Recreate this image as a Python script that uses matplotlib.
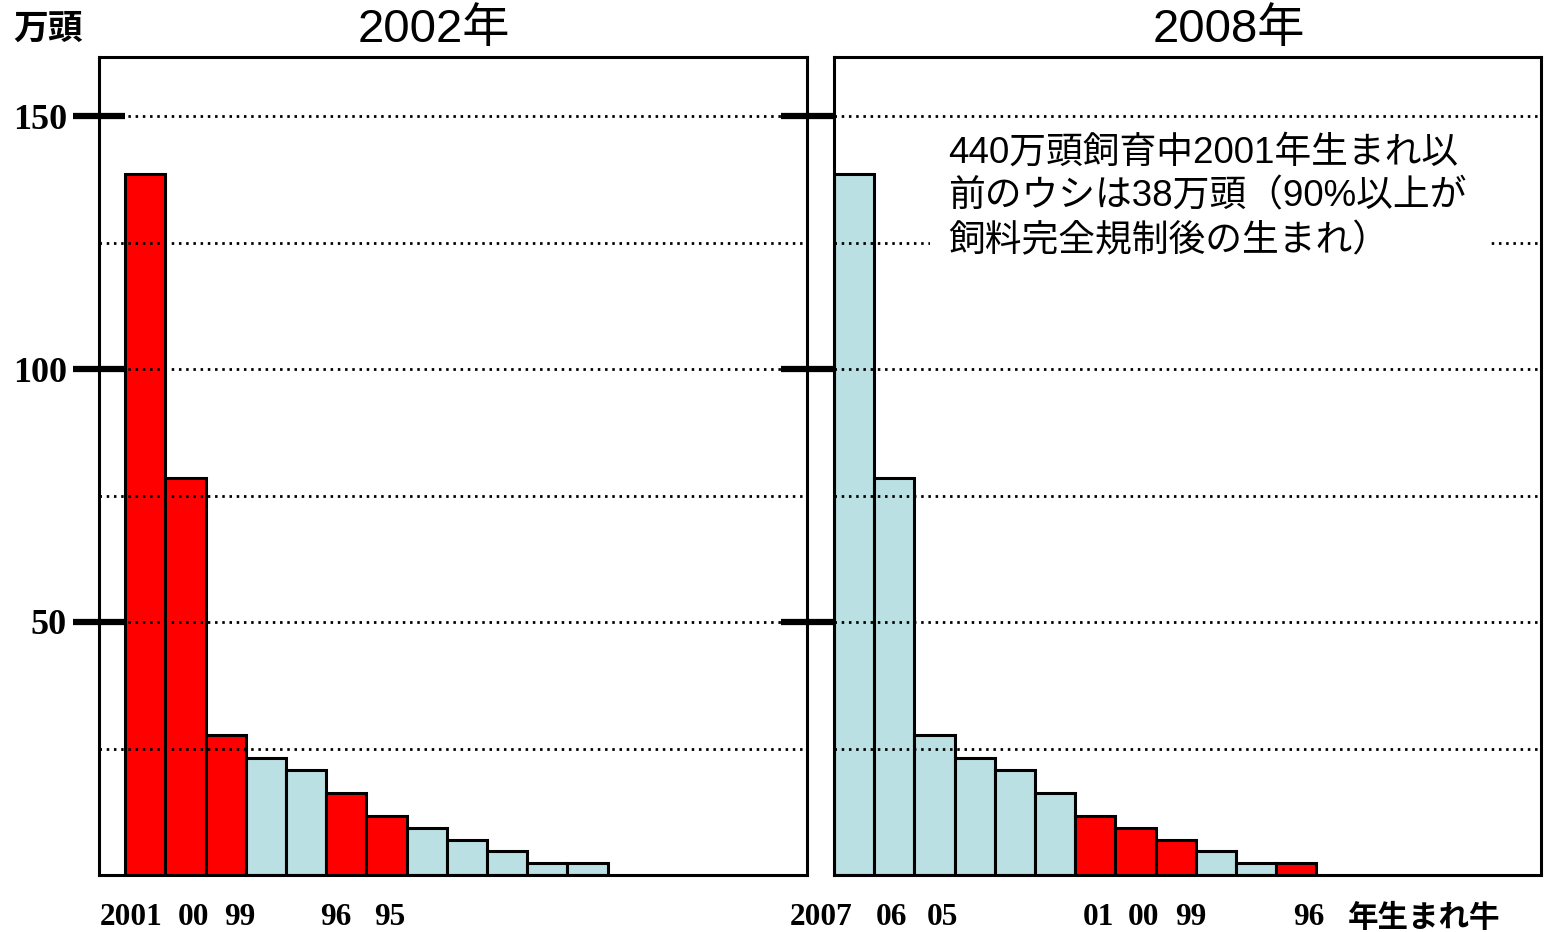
import numpy as np
import matplotlib.pyplot as plt
from matplotlib.patches import Rectangle
from matplotlib.transforms import blended_transform_factory

# ---- so lieu (万頭, theo nam sinh, tre nhat truoc) ----
born_2002 = list(range(2001, 1989, -1))          # 2001 .. 1990
heads_2002 = [138.5, 78.5, 27.7, 23.1, 20.8, 16.2, 11.7, 9.3, 6.9, 4.7, 2.4, 2.4]

born_2008 = list(range(2007, 1995, -1))          # 2007 .. 1996
heads_2008 = [138.5, 78.5, 27.7, 23.1, 20.8, 16.2, 11.7, 9.3, 6.9, 4.7, 2.4, 2.4]

red_cohorts = {2001, 2000, 1999, 1996, 1995}     # to mau do

labels_2002 = ['2001', '00', '99', '96', '95']
label_born_2002 = [2001, 2000, 1999, 1996, 1995]
labels_2008 = ['2007', '06', '05', '01', '00', '99', '96']
label_born_2008 = [2007, 2006, 2005, 2001, 2000, 1999, 1996]

yticks = [50, 100, 150]
grid_vals = [25, 50, 75, 100, 125, 150]

note = ('440万頭飼育中2001年生まれ以\n'
        '前のウシは38万頭（90%以上が\n'
        '飼料完全規制後の生まれ）')

# ---- kieu ----
RED = '#FF0000'
BLUE = '#BAE0E3'
W, H = 1544, 932
YTOP = 818 / 5.06
SANS = ['Liberation Sans', 'Noto Sans CJK JP', 'DejaVu Sans']
SERIF = ['Liberation Serif', 'DejaVu Serif']
CJK_BOLD = ['Noto Sans CJK JP', 'DejaVu Sans']

fig = plt.figure(figsize=(W / 100, H / 100), dpi=100)
ax1 = fig.add_axes([99 / W, (H - 875) / H, 708 / W, 818 / H])
ax2 = fig.add_axes([834 / W, (H - 875) / H, 707 / W, 818 / H])


def draw_panel(ax, heads, born, xlim, labels, label_born, nudges, tick_dir):
    x = np.arange(len(heads))
    colors = [RED if b in red_cohorts else BLUE for b in born]
    ax.bar(x, heads, width=1, align='edge', color=colors,
           edgecolor='black', linewidth=2.2, zorder=2)
    for v in grid_vals:
        ax.axhline(v, color='black', lw=2, ls=(0, (0.9, 1.7)), zorder=3)
    ax.set_xlim(*xlim)
    ax.set_ylim(0, YTOP)
    ax.set_xticks([])
    ax.set_yticks(yticks)
    ax.tick_params(axis='y', direction=tick_dir, length=38, width=4.5, pad=4)
    for s in ax.spines.values():
        s.set_linewidth(2.2)
        s.set_zorder(4)

    # nhan nam sinh duoi truc
    tr = blended_transform_factory(ax.transData, ax.transAxes)
    for lab, b, dx in zip(labels, label_born, nudges):
        i = born.index(b)
        ax.text(i + 0.5 + dx, -0.052, lab, transform=tr, ha='center', va='center',
                fontsize=22.5, fontweight='bold', family=SERIF)


draw_panel(ax1, heads_2002, born_2002, (-0.65, 16.96), labels_2002, label_born_2002,
           [-0.35, 0.19, 0.36, -0.25, 0.07], 'inout')
draw_panel(ax2, heads_2008, born_2008, (0, 17.59), labels_2008, label_born_2008,
           [-0.82, -0.08, 0.19, 0.07, 0.21, 0.38, 0.32], 'out')

for lab in ax1.get_yticklabels():
    lab.set_fontsize(26)
    lab.set_fontweight('bold')
    lab.set_family(SERIF)
ax2.set_yticklabels([])

tr2 = blended_transform_factory(ax2.transData, ax2.transAxes)
ax2.text(12.79, -0.052, '年生まれ牛', transform=tr2, ha='left', va='center',
         fontsize=22, fontweight='bold', family=CJK_BOLD)

# chu thich trong khung phai (nen trang che duong luoi)
ax2.add_patch(Rectangle((0.136, 0.745), 0.792, 0.172, transform=ax2.transAxes,
                        fc='white', ec='none', zorder=3.5))
ax2.text(0.161, 0.904, note, transform=ax2.transAxes, ha='left', va='top',
         fontsize=26.5, family=SANS, linespacing=1.34, zorder=5)

# tieu de
fig.text(434 / W, 1 - 30 / H, '2002年', ha='center', va='center', fontsize=34, family=SANS)
fig.text(1229 / W, 1 - 30 / H, '2008年', ha='center', va='center', fontsize=34, family=SANS)
fig.text(48 / W, 1 - 28 / H, '万頭', ha='center', va='center', fontsize=25,
         fontweight='bold', family=CJK_BOLD)

fig.savefig('out.png', dpi=100)
